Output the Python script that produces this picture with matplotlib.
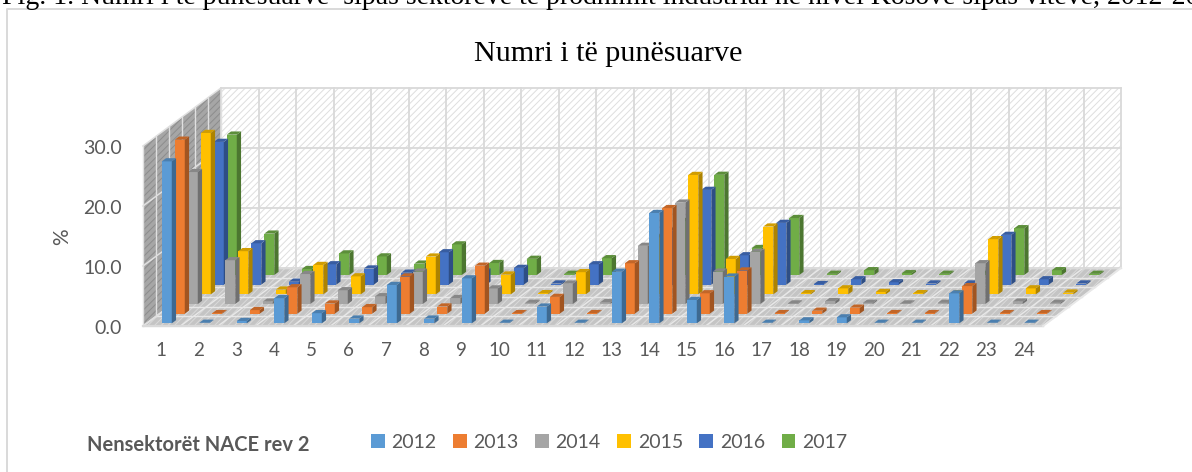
from matplotlib import pyplot as plt
from matplotlib.colors import to_rgb
from matplotlib.patches import Patch, Polygon

plt.rcParams['hatch.linewidth'] = 0.7

years = ['2012', '2013', '2014', '2015', '2016', '2017']
categories = [str(i) for i in range(1, 25)]
y_ticks = [0, 10, 20, 30]

v2012 = [27.0, 0.1, 0.4, 4.2, 1.7, 0.8, 6.4, 0.8, 7.5, 0.1, 2.8, 0.1,
         8.6, 18.4, 3.9, 7.8, 0.1, 0.5, 1.0, 0.1, 0.1, 5.0, 0.1, 0.1]
v2013 = [29.0, 0.1, 0.6, 4.4, 1.7, 1.1, 6.2, 1.2, 8.0, 0.1, 2.8, 0.1,
         8.4, 17.6, 3.4, 7.2, 0.1, 0.5, 1.0, 0.1, 0.1, 4.6, 0.1, 0.1]
v2014 = [22.0, 7.3, 0.4, 5.0, 2.3, 1.3, 5.4, 1.0, 2.6, 0.2, 3.4, 0.3,
         9.7, 16.9, 5.4, 8.7, 0.1, 0.5, 0.2, 0.1, 0.2, 6.8, 0.4, 0.2]
v2015 = [26.9, 7.2, 0.8, 4.9, 3.0, 0.4, 6.3, 0.5, 3.3, 0.2, 3.7, 0.4,
         9.5, 19.9, 5.9, 11.3, 0.2, 1.0, 0.4, 0.2, 0.2, 9.2, 1.0, 0.3]
v2016 = [23.8, 6.9, 0.5, 3.4, 2.7, 2.0, 5.4, 2.2, 2.8, 0.2, 3.4, 0.3,
         9.0, 15.8, 4.9, 10.3, 0.1, 0.9, 0.4, 0.2, 0.2, 8.3, 0.9, 0.2]
v2017 = [23.4, 6.9, 1.0, 3.6, 3.1, 1.9, 5.1, 2.0, 2.7, 0.2, 2.8, 0.3,
         9.0, 16.7, 4.5, 9.5, 0.2, 0.8, 0.3, 0.2, 0.2, 7.8, 0.8, 0.2]
series = [v2012, v2013, v2014, v2015, v2016, v2017]
colors = ['#5B9BD5', '#ED7D31', '#A5A5A5', '#FFC000', '#4472C4', '#70AD47']

# one category is 37.5 px, one percent is 6 px, the floor starts at (143, 326)
PX_X = 37.5
PX_Y = 6.0
X0 = 143
Y0 = 326
W = 1192
H = 472
DX = 13 / PX_X
DY = 9.67 / PX_Y
N_ROWS = len(series)
N_CATS = len(categories)
Y_TOP = y_ticks[-1]

BAR_W = 0.267
BAR_SHIFT = 0.04
BAR_D0 = 0.27
BAR_D1 = 0.6


def project(cat, depth, val):
    return cat + depth * DX, val + depth * DY


def shade(color, factor):
    return tuple(c * factor for c in to_rgb(color))


def px(x, y):
    return (x - X0) / PX_X, (Y0 - y) / PX_Y


def face(ax, points, **kwargs):
    ax.add_patch(Polygon([project(*p) for p in points], closed=True, **kwargs))


def grid_line(ax, start, end, color, lw):
    # walls and grid stay under the bars
    ax.plot(*zip(project(*start), project(*end)), color=color, lw=lw, zorder=1)


def draw_bar(ax, cat, row, val, color):
    x0 = cat + 0.5 - BAR_W / 2 + BAR_SHIFT
    x1 = x0 + BAR_W
    d0 = row + BAR_D0
    d1 = row + BAR_D1
    face(ax, [(x0, d0, 0), (x1, d0, 0), (x1, d0, val), (x0, d0, val)], fc=color, ec='none', zorder=2)
    face(ax, [(x1, d0, 0), (x1, d1, 0), (x1, d1, val), (x1, d0, val)], fc=shade(color, 0.68), ec='none', zorder=2)
    face(ax, [(x0, d0, val), (x1, d0, val), (x1, d1, val), (x0, d1, val)], fc=shade(color, 0.82), ec='none', zorder=2)


def draw_walls(ax):
    grid = '#d9d9d9'
    face(ax, [(0, N_ROWS, 0), (N_CATS, N_ROWS, 0), (N_CATS, N_ROWS, Y_TOP), (0, N_ROWS, Y_TOP)],
         fc='white', ec='#dedede', hatch='/////', lw=0, zorder=0)
    face(ax, [(0, 0, 0), (0, N_ROWS, 0), (0, N_ROWS, Y_TOP), (0, 0, Y_TOP)],
         fc='#a6a6a6', ec='#8c8c8c', hatch='/////', lw=0, zorder=0)
    face(ax, [(0, 0, 0), (N_CATS, 0, 0), (N_CATS, N_ROWS, 0), (0, N_ROWS, 0)],
         fc='#c4c4c4', ec='#dadada', hatch='/////', lw=0, zorder=0)

    for cat in range(N_CATS + 1):
        grid_line(ax, (cat, 0, 0), (cat, N_ROWS, 0), '#e8e8e8', 1.0)
        grid_line(ax, (cat, N_ROWS, 0), (cat, N_ROWS, Y_TOP), grid, 1.3)
    for row in range(N_ROWS + 1):
        grid_line(ax, (0, row, 0), (N_CATS, row, 0), '#e8e8e8', 1.0)
        grid_line(ax, (0, row, 0), (0, row, Y_TOP), '#e0e0e0', 1.0)
    for val in y_ticks:
        grid_line(ax, (0, 0, val), (0, N_ROWS, val), '#e0e0e0', 1.1)
        grid_line(ax, (0, N_ROWS, val), (N_CATS, N_ROWS, val), grid, 1.3)
    grid_line(ax, (0, 0, 0), (N_CATS, 0, 0), grid, 1.6)
    grid_line(ax, (N_CATS, 0, 0), (N_CATS, N_ROWS, 0), '#e8e8e8', 1.3)


fig = plt.figure(figsize=(W / 100, H / 100), dpi=100)
ax = fig.add_axes([0, 0, 1, 1])
ax.set_xlim(px(0, 0)[0], px(W, 0)[0])
ax.set_ylim(px(0, H)[1], px(0, 0)[1])
ax.axis('off')

# chart frame, only the top and left edges are visible
ax.plot(*zip(px(7, H), px(7, 9), px(W, 9)), color='#d9d9d9', lw=1.4, zorder=1)

draw_walls(ax)

# back rows first so the front rows cover them
for row in reversed(range(N_ROWS)):
    for cat in range(N_CATS):
        draw_bar(ax, cat, row, series[row][cat], colors[row])

label_color = '#595959'
for val in y_ticks:
    ax.text(*px(122, Y0 + 2.5 - val * PX_Y), f'{val:.1f}', ha='right', va='center',
            fontsize=14, family='Lato', color=label_color)
for i, name in enumerate(categories):
    ax.text(i + 0.5 - 0.01, px(0, 351)[1], name, ha='center', va='center',
            fontsize=13.5, family='Lato', color=label_color)
ax.text(*px(62, 237), '%', rotation=90, ha='center', va='center',
        fontsize=15, family='Lato', color=label_color)

ax.text(*px(608, 54), 'Numri i të punësuarve', ha='center', va='center',
        fontsize=21.7, family='Liberation Serif', color='black')
ax.text(*px(2, 4), 'Fig. 1. Numri i të punësuarve  sipas sektorëve të prodhimit industrial '
        'në nivel Kosovë sipas viteve, 2012-2017', ha='left', va='baseline',
        fontsize=20, family='Liberation Serif', color='black')
ax.text(*px(87, 445), 'Nensektorët NACE rev 2', ha='left', va='center',
        fontsize=14.5, family='Lato', weight='bold', color=label_color)

handles = [Patch(fc=c, ec='none', label=y) for c, y in zip(colors, years)]
ax.legend(handles=handles, ncol=6, frameon=False, loc='center',
          bbox_to_anchor=px(609, 442.5), bbox_transform=ax.transData,
          prop={'family': 'Lato', 'size': 14}, labelcolor=label_color,
          handlelength=0.7, handleheight=0.7, handletextpad=0.35,
          columnspacing=0.85, borderpad=0, borderaxespad=0)

fig.savefig('out.png', dpi=100)
